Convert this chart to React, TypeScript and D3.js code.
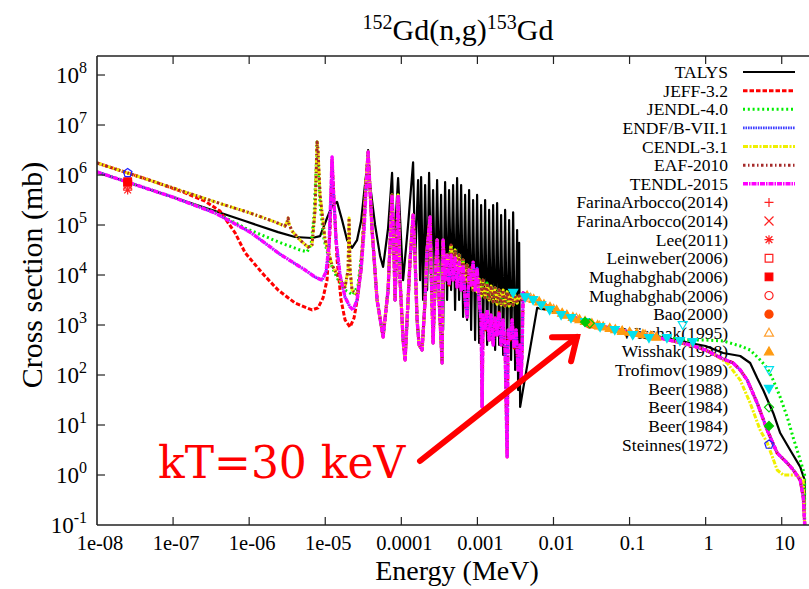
import React from "react";
import * as d3 from "d3";

type Pt = [number, number];

// ---------- axes ----------
const xDomain: [number, number] = [1e-8, 25];
const yDomain: [number, number] = [0.1, 2.4e8];
const xTickValues = [1e-8, 1e-7, 1e-6, 1e-5, 1e-4, 1e-3, 1e-2, 1e-1, 1, 10];
const xTickLabels = ["1e-08", "1e-07", "1e-06", "1e-05", "0.0001", "0.001", "0.01", "0.1", "1", "10"];
const yTickExponents = [-1, 0, 1, 2, 3, 4, 5, 6, 7, 8];

// ---------- evaluated libraries: pieces (E in MeV, sigma in mb) ----------
const talysLow: Pt[] = [
  [1e-8, 1.15e6], [1.0e-7, 3.6e5], [3.25e-7, 2.0e5], [8.83e-7, 1.2e5], [2.4e-6, 7.2e4],
  [4.01e-6, 5.75e4], [6.71e-6, 5.5e4], [8.55e-6, 6.0e4], [1.056e-5, 1.38e5], [1.229e-5, 2.4e5],
  [1.43e-5, 2.9e5], [1.664e-5, 1.26e5], [1.936e-5, 5.0e4], [2.25e-5, 3.5e4], [2.62e-5, 5.0e4],
  [2.96e-5, 1.2e5], [3.24e-5, 4.4e5], [3.44e-5, 1.0e6], [3.66e-5, 3.16e6], [3.89e-5, 6.3e5],
  [4.52e-5, 1.0e5], [5.26e-5, 2.4e4], [5.76e-5, 1.45e4], [6.7e-5, 8.7e4], [7.56e-5, 1.1e6],
  [8.04e-5, 3.6e4], [9.07e-5, 8.7e5], [1.055e-4, 7.9e3], [1.227e-4, 1.0e5], [1.428e-4, 1.8e6],
  [1.518e-4, 1.74e4],
];
const talysDense: Pt[] = [
  [1.662e-4, 7.9e5], [1.765e-4, 7.9e3], [1.82e-4, 9.1e5], [1.933e-4, 3.16e3], [2.054e-4, 6.3e5],
  [2.183e-4, 5.0e3], [2.318e-4, 1.1e6], [2.463e-4, 1.0e4], [2.617e-4, 5.0e5], [2.78e-4, 3.16e3],
  [2.954e-4, 7.9e5], [3.138e-4, 6.3e3], [3.333e-4, 4.0e5], [3.541e-4, 794], [3.762e-4, 7.2e5],
  [3.997e-4, 3.16e3], [4.246e-4, 5.0e5], [4.511e-4, 5.0e3], [4.792e-4, 6.3e5], [5.09e-4, 2.0e3],
  [5.41e-4, 8.7e5], [5.75e-4, 3.16e3], [6.11e-4, 6.3e5], [6.49e-4, 1.45e3], [6.89e-4, 4.0e5],
  [7.32e-4, 1.26e3], [7.78e-4, 5.0e5], [8.27e-4, 794], [8.78e-4, 3.16e5], [9.33e-4, 500],
  [9.91e-4, 4.0e5], [1.053e-3, 437], [1.119e-3, 2.5e5], [1.189e-3, 631], [1.263e-3, 3.16e5],
  [1.342e-3, 398], [1.426e-3, 2.0e5], [1.515e-3, 500], [1.61e-3, 2.5e5], [1.71e-3, 316],
  [1.816e-3, 2.75e5], [1.93e-3, 398], [2.05e-3, 1.58e5], [2.18e-3, 251], [2.314e-3, 2.0e5],
  [2.459e-3, 316], [2.612e-3, 1.26e5], [2.776e-3, 200], [2.949e-3, 1.8e5], [3.133e-3, 126],
  [3.328e-3, 7.9e4], [3.431e-3, 50], [3.537e-3, 4.4e4], [3.646e-3, 23],
];
const talysHigh: Pt[] = [
  [3.873e-3, 40], [6.1e-3, 2.2e3], [9.9e-3, 1.9e3], [1.51e-2, 1.58e3], [4.11e-2, 955],
  [0.102, 724], [0.253, 575], [0.626, 437], [1.0, 380], [1.7, 275], [2.85, 240], [3.85, 174],
  [4.76, 87], [5.71, 50], [7.73, 17.4], [9.55, 6.9], [12.9, 3.16], [17.5, 1.45], [20, 0.79], [20, 1e-3],
];

const jeffLow: Pt[] = [
  [1e-8, 1.74e6], [4.97e-8, 7.9e5], [1.44e-7, 4.4e5], [2.63e-7, 3.0e5], [4.14e-7, 1.9e5],
  [6.52e-7, 7.0e4], [8.83e-7, 2.8e4], [1.48e-6, 1.1e4], [2.4e-6, 5.0e3], [4.01e-6, 2.75e3],
  [6.71e-6, 2.0e3], [8.04e-6, 2.2e3], [9.36e-6, 3.5e3], [1.056e-5, 7.9e3], [1.157e-5, 7.9e4],
  [1.229e-5, 2.0e6], [1.306e-5, 3.16e5], [1.43e-5, 2.0e4], [1.614e-5, 3.16e3], [1.822e-5, 1.26e3],
  [2.12e-5, 912], [2.39e-5, 1.38e3], [2.7e-5, 4.0e3], [3.05e-5, 3.16e4], [3.34e-5, 3.16e5],
];
const endfLow: Pt[] = [
  [1e-8, 1.15e6], [1.0e-7, 3.6e5], [3.56e-7, 1.74e5], [1.03e-6, 7.2e4], [2.55e-6, 2.6e4],
  [5.43e-6, 1.26e4], [7.35e-6, 9.1e3], [9.08e-6, 7.9e3], [1.025e-5, 1.15e4], [1.122e-5, 4.0e4],
  [1.192e-5, 5.0e5], [1.229e-5, 2.29e6], [1.267e-5, 6.3e5], [1.387e-5, 5.0e4], [1.566e-5, 1.0e4],
  [1.822e-5, 3.6e3], [2.12e-5, 2.3e3], [2.32e-5, 2.0e3], [2.62e-5, 3.16e3], [2.96e-5, 1.26e4],
  [3.24e-5, 7.9e4], [3.44e-5, 5.0e5],
];
const jendlLow: Pt[] = [
  [1e-8, 1.15e6], [1.0e-7, 3.6e5], [3.56e-7, 1.8e5], [8.83e-7, 8.7e4], [2.4e-6, 4.6e4],
  [4.67e-6, 3.16e4], [5.77e-6, 2.9e4], [6.51e-6, 4.0e4], [7.13e-6, 1.58e5], [7.57e-6, 1.26e6],
  [7.81e-6, 4.57e6], [8.04e-6, 1.58e6], [8.55e-6, 2.5e5], [9.65e-6, 5.0e4], [1.157e-5, 1.8e4],
  [1.43e-5, 8.7e3], [1.822e-5, 5.0e3], [2.32e-5, 4.0e3], [2.7e-5, 6.3e3], [3.05e-5, 3.16e4],
  [3.34e-5, 3.16e5],
];
const cendlLow: Pt[] = [
  [1e-8, 1.74e6], [1.0e-7, 5.5e5], [3.56e-7, 2.9e5], [1.03e-6, 1.74e5], [2.19e-6, 1.15e5],
  [2.96e-6, 9.5e4], [3.15e-6, 1.15e5], [3.25e-6, 1.38e5], [3.34e-6, 1.05e5], [3.66e-6, 7.6e4],
  [4.67e-6, 5.0e4], [5.95e-6, 3.6e4], [6.71e-6, 4.0e4], [7.35e-6, 2.0e5], [7.81e-6, 4.57e6],
  [8.04e-6, 3.16e6], [8.55e-6, 4.0e5], [9.95e-6, 5.0e4], [1.229e-5, 1.58e4], [1.566e-5, 7.9e3],
  [1.822e-5, 5.75e3], [1.995e-5, 1.26e4], [2.056e-5, 1.38e5], [2.12e-5, 1.26e4], [2.25e-5, 5.0e3],
  [2.62e-5, 4.0e3], [2.96e-5, 1.26e4], [3.24e-5, 1.26e5], [3.44e-5, 7.9e5],
];
const resCommon: Pt[] = [
  [3.66e-5, 2.88e6], [4.13e-5, 7.9e4], [4.8e-5, 3.16e3], [5.76e-5, 575], [6.7e-5, 5.0e3],
  [7.34e-5, 1.26e5], [7.56e-5, 4.0e5], [8.04e-5, 2.0e4], [8.28e-5, 3.16e3], [8.8e-5, 7.9e4],
  [9.07e-5, 4.0e5], [9.63e-5, 7.9e3], [1.055e-4, 500], [1.121e-4, 200], [1.227e-4, 3.16e3],
  [1.304e-4, 2.0e4], [1.385e-4, 7.9e4], [1.428e-4, 1.58e5], [1.518e-4, 2.0e4], [1.612e-4, 1.26e3],
  [1.713e-4, 398], [1.875e-4, 316], [2.054e-4, 3.16e3], [2.183e-4, 3.16e4], [2.39e-4, 1.45e5],
  [2.463e-4, 1.26e4], [2.617e-4, 437], [2.78e-4, 7.9e3], [2.954e-4, 5.0e4], [3.138e-4, 3.16e3],
  [3.436e-4, 174], [3.541e-4, 5.0e4], [3.762e-4, 7.9e3], [3.997e-4, 2.5e4],
];
const resMagenta: Pt[] = [
  [4.246e-4, 6.3e3], [4.511e-4, 2.5e4], [4.792e-4, 7.9e3], [5.09e-4, 2.2e4], [5.41e-4, 5.75e3],
  [5.75e-4, 1.8e4], [6.11e-4, 5.0e3], [6.49e-4, 1.58e4], [6.89e-4, 3.16e3], [7.32e-4, 1.45e3],
  [7.78e-4, 1.26e4], [8.27e-4, 6.3e3], [8.78e-4, 1.8e4], [9.33e-4, 5.0e3], [9.91e-4, 1.38e4],
  [1.053e-3, 3.16e3], [1.119e-3, 1.26e3], [1.153e-3, 23], [1.189e-3, 1.58e3], [1.263e-3, 794],
  [1.342e-3, 2.0e3], [1.426e-3, 500], [1.515e-3, 1.58e3], [1.61e-3, 398], [1.71e-3, 1.38e3],
  [1.816e-3, 631], [1.93e-3, 1.8e3], [2.05e-3, 398], [2.18e-3, 1.26e3], [2.314e-3, 316],
  [2.459e-3, 2.3], [2.535e-3, 794], [2.69e-3, 500], [2.86e-3, 1.26e3], [3.04e-3, 347],
  [3.229e-3, 794], [3.431e-3, 126], [3.646e-3, 398], [3.758e-3, 79], [3.873e-3, 316],
  [3.992e-3, 4.4e3],
];
const resYellow: Pt[] = [
  [4.246e-4, 1.8e4], [4.511e-4, 4.0e4], [4.792e-4, 1.38e4], [5.09e-4, 3.16e4], [5.41e-4, 1.15e4],
  [5.75e-4, 2.5e4], [6.11e-4, 8.7e3], [6.49e-4, 2.0e4], [6.89e-4, 7.2e3], [7.32e-4, 1.58e4],
  [7.78e-4, 6.3e3], [8.27e-4, 1.38e4], [8.78e-4, 5.0e3], [9.33e-4, 1.15e4], [9.91e-4, 4.6e3],
  [1.053e-3, 8.7e3], [1.119e-3, 3.8e3], [1.189e-3, 7.9e3], [1.263e-3, 3.5e3], [1.342e-3, 6.9e3],
  [1.426e-3, 3.16e3], [1.515e-3, 6.0e3], [1.61e-3, 2.9e3], [1.71e-3, 5.5e3], [1.816e-3, 2.6e3],
  [1.93e-3, 5.0e3], [2.05e-3, 2.5e3], [2.18e-3, 5.0e3], [2.314e-3, 2.4e3], [2.459e-3, 4.6e3],
  [2.612e-3, 2.4e3], [2.776e-3, 4.4e3], [2.949e-3, 2.5e3], [3.133e-3, 4.0e3], [3.328e-3, 2.75e3],
  [3.537e-3, 3.8e3], [3.758e-3, 3.16e3], [3.992e-3, 4.2e3],
];
const smoothEval: Pt[] = [
  [4.93e-3, 3.6e3], [6.68e-3, 2.9e3], [9.9e-3, 2.1e3], [1.51e-2, 1.58e3], [2.61e-2, 1.2e3],
  [4.11e-2, 955], [0.102, 724], [0.253, 550], [0.626, 398], [1.0, 316], [1.335, 251], [1.7, 209],
  [2.3, 174], [2.85, 126], [3.52, 79], [4.76, 27.5], [6.45, 7.9], [8.72, 2.75], [11.8, 1.74],
  [14.2, 1.26], [17.5, 0.79], [19.2, 0.36], [20, 0.11], [20, 1e-3],
];
const smoothJendl: Pt[] = [
  [4.93e-3, 3.6e3], [6.68e-3, 2.9e3], [9.9e-3, 2.1e3], [1.51e-2, 1.58e3], [2.61e-2, 1.2e3],
  [4.11e-2, 955], [0.102, 724], [0.253, 575], [0.626, 500], [1.0, 500], [1.7, 479], [2.85, 380],
  [3.85, 316], [5.21, 200], [6.45, 138], [7.73, 79], [9.55, 36], [11.8, 14.5], [14.2, 5.5],
  [17.5, 2.0], [20, 1.0], [20, 1e-3],
];
const smoothCendl: Pt[] = [
  [4.93e-3, 3.6e3], [6.68e-3, 2.9e3], [9.9e-3, 2.1e3], [1.51e-2, 1.58e3], [2.61e-2, 1.2e3],
  [4.11e-2, 955], [0.102, 724], [0.253, 550], [0.626, 398], [1.0, 316], [1.335, 251], [1.92, 174],
  [2.85, 79], [3.85, 27.5], [5.21, 7.9], [6.45, 4.4], [8.72, 1.26], [10.46, 1.0], [16.0, 1.0],
  [19.2, 0.79], [20, 0.11], [20, 1e-3],
];

const talysData: Pt[] = [...talysLow, ...talysDense, ...talysHigh];
const jeffData: Pt[] = [...jeffLow, ...resCommon, ...resMagenta, ...smoothEval];
const jendlData: Pt[] = [...jendlLow, ...resCommon, ...resYellow, ...smoothJendl];
const endfData: Pt[] = [...endfLow, ...resCommon, ...resMagenta, ...smoothEval];
const cendlData: Pt[] = [...cendlLow, ...resCommon, ...resYellow, ...smoothCendl];
const eafData: Pt[] = [...cendlLow, ...resCommon, ...resYellow, ...smoothEval];
const tendlData: Pt[] = [...endfLow, ...resCommon, ...resMagenta, ...smoothEval];

const libNames = ["TALYS", "JEFF-3.2", "JENDL-4.0", "ENDF/B-VII.1", "CENDL-3.1", "EAF-2010", "TENDL-2015"];
const libData = [talysData, jeffData, jendlData, endfData, cendlData, eafData, tendlData];
const libColors = ["#000000", "#ff0000", "#00ee00", "#4040ff", "#f0f000", "#a52a2a", "#ff00ff"];
const libDash = ["", "4.5,2", "2,2.8", "1.6,0.9", "5,1.5,2,1.5", "2.5,2.5,1.5,2.5", "5,1,1.5,1"];
const libWidth = [2.2, 3, 3, 2.6, 3, 3, 3.4];

// ---------- experimental data ----------
const farinaA: Pt[] = [[2.53e-8, 7.2e5]];
const farinaB: Pt[] = [[2.53e-8, 6.3e5]];
const lee2011: Pt[] = [[2.53e-8, 5.0e5]];
const leinweber2006: Pt[] = [[2.53e-8, 6.9e5]];
const mughabghabA: Pt[] = [[2.53e-8, 7.35e5]];
const mughabghabB: Pt[] = [[3.0e-2, 1.05e3]];
const bao2000: Pt[] = [[3.0e-2, 1.05e3]];
const wisshak1995: Pt[] = [
  [5.0e-3, 3.5e3], [1.0e-2, 2.1e3], [2.0e-2, 1.38e3], [4.0e-2, 970], [8.0e-2, 760], [0.16, 650], [0.2, 600],
];
const wisshak1998: Pt[] = [
  [4.5e-3, 3.9e3], [5.5e-3, 3.3e3], [6.5e-3, 2.95e3], [7.5e-3, 2.6e3], [9.0e-3, 2.3e3], [1.1e-2, 2.0e3],
  [1.3e-2, 1.75e3], [1.5e-2, 1.6e3], [1.8e-2, 1.45e3], [2.2e-2, 1.3e3], [2.6e-2, 1.2e3], [3.2e-2, 1.08e3],
  [3.8e-2, 1.0e3], [4.5e-2, 930], [5.5e-2, 870], [6.5e-2, 820], [8.0e-2, 770], [0.1, 730], [0.125, 690],
  [0.15, 660], [0.19, 610], [0.225, 580],
];
const trofimov1989: Pt[] = [[0.5, 1.0e3]];
const beer1988: Pt[] = [
  [2.95e-3, 4.4e3], [4.24e-3, 3.6e3], [5.4e-3, 3.16e3], [6.9e-3, 2.5e3], [8.9e-3, 2.0e3], [1.26e-2, 1.58e3],
  [1.7e-2, 1.38e3], [2.6e-2, 1.15e3], [4.1e-2, 912], [6.4e-2, 794], [0.11, 631], [0.18, 550],
  [0.31, 550], [0.46, 479], [0.68, 457],
];
const beer1984A: Pt[] = [[3.0e-2, 1.08e3]];
const beer1984B: Pt[] = [[2.6e-2, 1.15e3]];
const steinnes1972: Pt[] = [[2.53e-8, 1.1e6]];

const expNames = [
  "FarinaArbocco(2014)", "FarinaArbocco(2014)", "Lee(2011)", "Leinweber(2006)", "Mughabghab(2006)",
  "Mughabghab(2006)", "Bao(2000)", "Wisshak(1995)", "Wisshak(1998)", "Trofimov(1989)", "Beer(1988)",
  "Beer(1984)", "Beer(1984)", "Steinnes(1972)",
];
const expData = [
  farinaA, farinaB, lee2011, leinweber2006, mughabghabA, mughabghabB, bao2000, wisshak1995,
  wisshak1998, trofimov1989, beer1988, beer1984A, beer1984B, steinnes1972,
];
const expKinds = [
  "plus", "cross", "star", "square", "squareF", "circle", "circleF", "tri", "triF", "tdn", "tdnF",
  "dia", "diaF", "pent",
];
const expColors = [
  "#ff2020", "#ff2020", "#ff2020", "#ff2020", "#ff0000", "#ff2020", "#ff4500", "#ffa030", "#ff9a10",
  "#00e0ee", "#00e0ee", "#00c800", "#00c800", "#2020ff",
];

// ---------- layout ----------
const W = 809;
const H = 589;
const PL = 97;
const PR = 812;
const PT = 56;
const PB = 525;
const SERIF = "'Liberation Serif','Times New Roman',Times,serif";

function markerPath(kind: string, s: number): string {
  const h = s / 2;
  const base = kind.replace(/F$/, "");
  switch (base) {
    case "plus":
      return `M${-h},0H${h}M0,${-h}V${h}`;
    case "cross":
      return `M${-h},${-h}L${h},${h}M${-h},${h}L${h},${-h}`;
    case "star":
      return `M${-h},0H${h}M0,${-h}V${h}M${-h * 0.75},${-h * 0.75}L${h * 0.75},${h * 0.75}M${-h * 0.75},${h * 0.75}L${h * 0.75},${-h * 0.75}`;
    case "square":
      return `M${-h * 0.85},${-h * 0.85}H${h * 0.85}V${h * 0.85}H${-h * 0.85}Z`;
    case "circle":
      return `M${h * 0.9},0A${h * 0.9},${h * 0.9} 0 1,1 ${-h * 0.9},0A${h * 0.9},${h * 0.9} 0 1,1 ${h * 0.9},0Z`;
    case "tri":
      return `M0,${-h}L${h},${h * 0.75}L${-h},${h * 0.75}Z`;
    case "tdn":
      return `M0,${h}L${h},${-h * 0.75}L${-h},${-h * 0.75}Z`;
    case "dia":
      return `M0,${-h}L${h},0L0,${h}L${-h},0Z`;
    case "pent": {
      const pts = d3.range(5).map((i) => {
        const a = -Math.PI / 2 + (i * 2 * Math.PI) / 5;
        return `${(h * Math.cos(a)).toFixed(2)},${(h * Math.sin(a)).toFixed(2)}`;
      });
      return `M${pts.join("L")}Z`;
    }
  }
  return "";
}

function Marker({ kind, color, cx, cy, s }: { kind: string; color: string; cx: number; cy: number; s: number }) {
  const filled = kind.endsWith("F");
  return (
    <path
      d={markerPath(kind, s)}
      transform={`translate(${cx},${cy})`}
      fill={filled ? color : "none"}
      stroke={color}
      strokeWidth={1.2}
    />
  );
}

export default function App() {
  const x = d3.scaleLog().domain(xDomain).range([PL, PR]);
  const y = d3.scaleLog().domain(yDomain).range([PB, PT]);
  const line = d3
    .line<Pt>()
    .x((d) => x(d[0]))
    .y((d) => y(d[1]));

  const rowY = (i: number) => 72 + i * 18.63;
  const legendTextX = 728;

  // arrow annotation
  const tail: [number, number] = [420, 461];
  const tip: [number, number] = [577, 337];
  const ang = Math.atan2(tail[1] - tip[1], tail[0] - tip[0]);
  const arm = 25;
  const spread = (38 * Math.PI) / 180;
  const a1: [number, number] = [tip[0] + arm * Math.cos(ang + spread), tip[1] + arm * Math.sin(ang + spread)];
  const a2: [number, number] = [tip[0] + arm * Math.cos(ang - spread), tip[1] + arm * Math.sin(ang - spread)];

  return (
    <svg
      width={W}
      height={H}
      viewBox={`0 0 ${W} ${H}`}
      style={{ position: "absolute", left: 0, top: 0, background: "#fff" }}
      fontFamily={SERIF}
    >
      <defs>
        <clipPath id="plotClip">
          <rect x={PL} y={PT} width={PR - PL} height={PB - PT} />
        </clipPath>
      </defs>
      <rect x={0} y={0} width={W} height={H} fill="#fff" />

      {/* title */}
      <text x={458} y={40} textAnchor="middle" fontSize={30} fill="#000">
        <tspan fontSize={20} dy={-11}>152</tspan>
        <tspan dy={11}>Gd(n,g)</tspan>
        <tspan fontSize={20} dy={-11}>153</tspan>
        <tspan dy={11}>Gd</tspan>
      </text>

      {/* legend text (under curves) */}
      {libNames.map((n, i) => (
        <text key={"lt" + i} x={legendTextX} y={rowY(i) + 6} textAnchor="end" fontSize={17.5} fill="#000">
          {n}
        </text>
      ))}
      {expNames.map((n, i) => (
        <text key={"et" + i} x={legendTextX} y={rowY(i + 7) + 6} textAnchor="end" fontSize={17.5} fill="#000">
          {n}
        </text>
      ))}
      {/* legend samples for libraries */}
      {libNames.map((n, i) => (
        <line
          key={"ls" + i}
          x1={743}
          x2={795}
          y1={rowY(i)}
          y2={rowY(i)}
          stroke={libColors[i]}
          strokeWidth={libWidth[i]}
          strokeDasharray={libDash[i] || undefined}
        />
      ))}

      {/* curves */}
      <g clipPath="url(#plotClip)">
        {libData.map((d, i) => (
          <path
            key={"c" + i}
            d={line(d) || ""}
            fill="none"
            stroke={libColors[i]}
            strokeWidth={libWidth[i]}
            strokeDasharray={libDash[i] || undefined}
            strokeLinejoin="round"
          />
        ))}
        {expData.map((pts, i) =>
          pts.map((p, j) => (
            <Marker key={"m" + i + "_" + j} kind={expKinds[i]} color={expColors[i]} cx={x(p[0])} cy={y(p[1])} s={9} />
          ))
        )}
      </g>

      {/* legend markers */}
      {expNames.map((n, i) => (
        <Marker key={"lm" + i} kind={expKinds[i]} color={expColors[i]} cx={769} cy={rowY(i + 7)} s={9} />
      ))}

      {/* frame */}
      <line x1={PL} x2={PL} y1={PT} y2={PB} stroke="#222" strokeWidth={1.6} />
      <line x1={PL} x2={PR} y1={PB} y2={PB} stroke="#222" strokeWidth={1.6} />
      <line x1={PL} x2={PR} y1={PT} y2={PT} stroke="#222" strokeWidth={1.6} />
      <line x1={PR} x2={PR} y1={PT} y2={PB} stroke="#222" strokeWidth={1.6} />

      {/* x ticks */}
      {xTickValues.map((v, i) => (
        <g key={"xt" + i}>
          {i > 0 && <line x1={x(v)} x2={x(v)} y1={PB} y2={PB - 8} stroke="#222" strokeWidth={1.2} />}
          {i > 0 && <line x1={x(v)} x2={x(v)} y1={PT} y2={PT + 8} stroke="#222" strokeWidth={1.2} />}
          <text x={x(v) + 3} y={550} textAnchor="middle" fontSize={20.5} fill="#000">
            {xTickLabels[i]}
          </text>
        </g>
      ))}

      {/* y ticks */}
      {yTickExponents.map((e, i) => {
        const yy = y(Math.pow(10, e));
        return (
          <g key={"yt" + i}>
            {i > 0 && <line x1={PL} x2={PL + 8} y1={yy} y2={yy} stroke="#222" strokeWidth={1.2} />}
            <text x={87} y={yy + 7.5} textAnchor="end" fontSize={23} fill="#000">
              10
              <tspan fontSize={16} dy={-10}>
                {String(e)}
              </tspan>
            </text>
          </g>
        );
      })}

      {/* axis labels */}
      <text x={457} y={580} textAnchor="middle" fontSize={28} fill="#000">
        Energy (MeV)
      </text>
      <text transform="translate(42,275) rotate(-90)" textAnchor="middle" fontSize={30} fill="#000">
        Cross section (mb)
      </text>

      {/* annotation */}
      <text x={158} y={478} fontSize={44} fill="#ff0000" fontFamily="'DejaVu Serif',serif">
        kT=30 keV
      </text>
      <line x1={tail[0]} y1={tail[1]} x2={tip[0]} y2={tip[1]} stroke="#ff0000" strokeWidth={6} strokeLinecap="round" />
      <polyline
        points={`${a1[0]},${a1[1]} ${tip[0]},${tip[1]} ${a2[0]},${a2[1]}`}
        fill="none"
        stroke="#ff0000"
        strokeWidth={6}
        strokeLinecap="round"
        strokeLinejoin="miter"
      />
    </svg>
  );
}
